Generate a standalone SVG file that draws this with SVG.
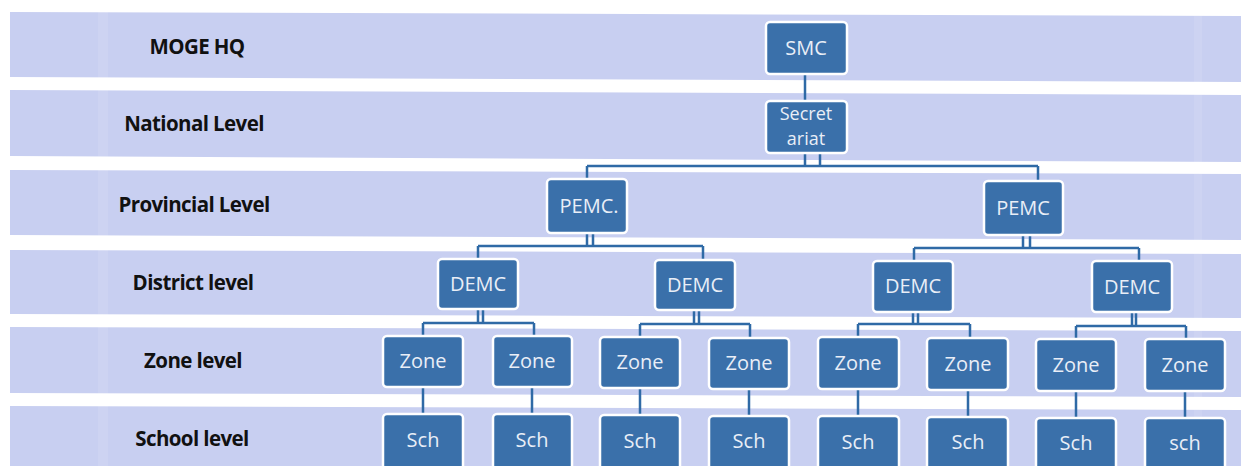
<svg xmlns="http://www.w3.org/2000/svg" width="1241" height="466" viewBox="0 0 1241 466">
  <style>
    .band { fill: #c8cff1; }
    .node rect { fill: #3a70aa; stroke: #ffffff; stroke-width: 2.5; }
    .node text { fill: #e9eef7; font-family: "Open Sans", "Liberation Sans", sans-serif; font-size: 20px; text-anchor: middle; }
    .node text.two { font-size: 18px; }
    .lvl { fill: #111111; font-family: "Open Sans", "Liberation Sans", sans-serif; font-size: 20.5px; font-weight: 700; text-anchor: middle; letter-spacing: -0.6px; }
    .conn path { fill: none; stroke: #2f6aa6; stroke-width: 2.5; }
  </style>
  <rect width="1241" height="466" fill="#ffffff"/>
  <g id="bands">
    <polygon class="band" points="10,12 1241,16 1241,82 10,77"/>
    <polygon class="band" points="10,90 1241,95 1241,162 10,156"/>
    <polygon class="band" points="10,170 1241,174 1241,240 10,235"/>
    <polygon class="band" points="10,250 1241,254 1241,318 10,314"/>
    <polygon class="band" points="10,327 1241,331 1241,397 10,393"/>
    <polygon class="band" points="10,406 1241,410 1241,466 10,466"/>
    <rect x="98" y="10" width="10" height="456" fill="#ffffff" opacity="0.1"/>
    <rect x="1194" y="10" width="8" height="456" fill="#ffffff" opacity="0.1"/>
  </g>
  <g id="levels">
    <text class="lvl" x="197" y="54">MOGE HQ</text>
    <text class="lvl" x="194" y="131">National Level</text>
    <text class="lvl" x="194" y="212">Provincial Level</text>
    <text class="lvl" x="193" y="290">District level</text>
    <text class="lvl" x="193" y="368">Zone level</text>
    <text class="lvl" x="192" y="446">School level</text>
  </g>
  <g id="connectors" class="conn">
    <path d="M805,74 V101"/>
    <path d="M805,153 V166 M820,153 V166 M587,166 H1038 M587,166 V179 M1038,166 V181"/>
    <path d="M587,233 V246 M593,233 V246 M478,246 H703 M478,246 V259 M703,246 V260"/>
    <path d="M1023,235 V248 M1030,235 V248 M914,248 H1139 M914,248 V261 M1139,248 V261"/>
    <path d="M478,309 V323 M483,309 V323 M423,323 H534 M423,323 V336 M534,323 V336"/>
    <path d="M694,310 V324 M699,310 V324 M640,324 H750 M640,324 V337 M750,324 V338"/>
    <path d="M913,312 V324 M918,312 V324 M858,324 H970 M858,324 V337 M970,324 V338"/>
    <path d="M1132,312 V326 M1136,312 V326 M1076,326 H1186 M1076,326 V339 M1186,326 V339"/>
    <path d="M423,387 V414 M532,387 V414 M640,388 V415 M749,389 V416 M858,389 V416 M968,390 V417 M1076,391 V418 M1185,391 V418"/>
  </g>
  <g id="smc" class="node"><rect x="766" y="22" width="81" height="52" rx="4"/><text x="806" y="55">SMC</text></g>
  <g id="secretariat" class="node"><rect x="766" y="101" width="81" height="52" rx="4"/><text class="two" x="806" y="120">Secret</text><text class="two" x="806" y="145">ariat</text></g>
  <g id="pemc1" class="node"><rect x="547" y="179" width="80" height="54" rx="4"/><text x="589" y="213">PEMC.</text></g>
  <g id="pemc2" class="node"><rect x="984" y="181" width="79" height="54" rx="4"/><text x="1023" y="215">PEMC</text></g>
  <g id="demc1" class="node"><rect x="438" y="259" width="80" height="50" rx="4"/><text x="478" y="291">DEMC</text></g>
  <g id="demc2" class="node"><rect x="655" y="260" width="80" height="50" rx="4"/><text x="695" y="292">DEMC</text></g>
  <g id="demc3" class="node"><rect x="873" y="261" width="80" height="51" rx="4"/><text x="913" y="293">DEMC</text></g>
  <g id="demc4" class="node"><rect x="1092" y="261" width="80" height="51" rx="4"/><text x="1132" y="294">DEMC</text></g>
  <g id="zone1" class="node"><rect x="383" y="336" width="80" height="51" rx="4"/><text x="423" y="368">Zone</text></g>
  <g id="zone2" class="node"><rect x="493" y="336" width="79" height="51" rx="4"/><text x="532" y="368">Zone</text></g>
  <g id="zone3" class="node"><rect x="600" y="337" width="80" height="51" rx="4"/><text x="640" y="369">Zone</text></g>
  <g id="zone4" class="node"><rect x="709" y="338" width="80" height="51" rx="4"/><text x="749" y="370">Zone</text></g>
  <g id="zone5" class="node"><rect x="818" y="337" width="81" height="52" rx="4"/><text x="858" y="370">Zone</text></g>
  <g id="zone6" class="node"><rect x="927" y="338" width="81" height="52" rx="4"/><text x="968" y="371">Zone</text></g>
  <g id="zone7" class="node"><rect x="1036" y="339" width="80" height="52" rx="4"/><text x="1076" y="372">Zone</text></g>
  <g id="zone8" class="node"><rect x="1145" y="339" width="80" height="52" rx="4"/><text x="1185" y="372">Zone</text></g>
  <g id="sch1" class="node"><rect x="383" y="414" width="80" height="60" rx="4"/><text x="423" y="447">Sch</text></g>
  <g id="sch2" class="node"><rect x="493" y="414" width="79" height="60" rx="4"/><text x="532" y="447">Sch</text></g>
  <g id="sch3" class="node"><rect x="600" y="415" width="80" height="60" rx="4"/><text x="640" y="448">Sch</text></g>
  <g id="sch4" class="node"><rect x="709" y="416" width="80" height="60" rx="4"/><text x="749" y="448">Sch</text></g>
  <g id="sch5" class="node"><rect x="818" y="416" width="81" height="60" rx="4"/><text x="858" y="449">Sch</text></g>
  <g id="sch6" class="node"><rect x="927" y="417" width="81" height="60" rx="4"/><text x="968" y="449">Sch</text></g>
  <g id="sch7" class="node"><rect x="1036" y="418" width="80" height="60" rx="4"/><text x="1076" y="450">Sch</text></g>
  <g id="sch8" class="node"><rect x="1145" y="418" width="80" height="60" rx="4"/><text x="1185" y="450">sch</text></g>
</svg>
